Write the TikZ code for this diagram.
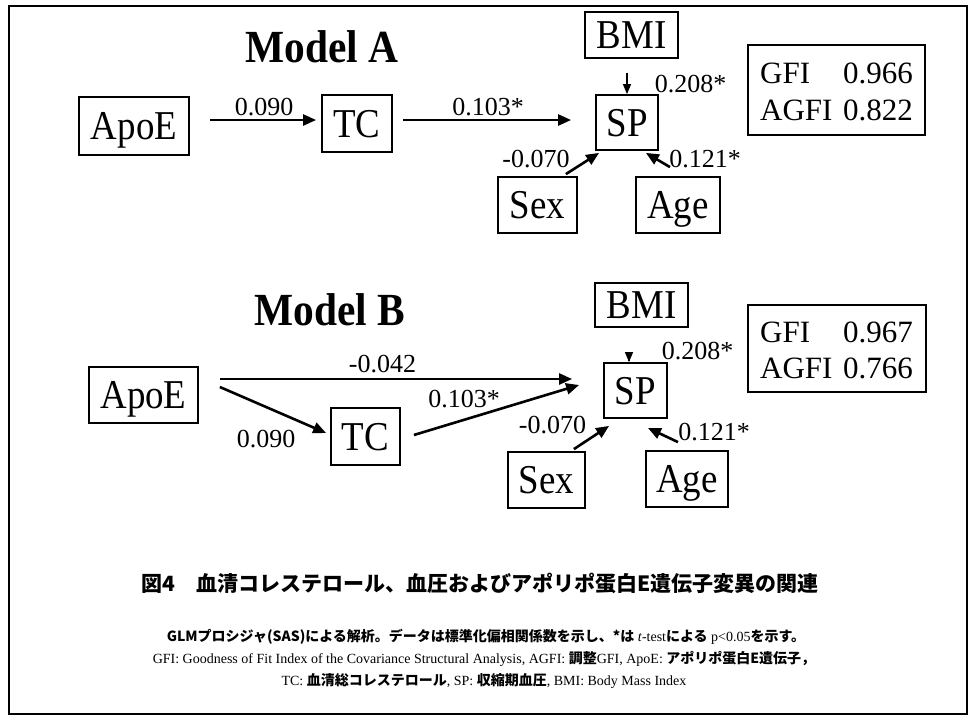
\documentclass[tikz,border=0pt]{standalone}
\usepackage{fontspec}
\setmainfont{Liberation Serif}
\newfontfamily\tmsn{Liberation Serif}[FakeStretch=0.9]
\newfontfamily\jp{Noto Sans CJK JP}
\usetikzlibrary{arrows.meta}
\tikzset{
  box/.style={draw, line width=1.8pt, inner sep=0pt, text height=27pt, text depth=0pt,
    font=\tmsn\fontsize{41}{48}\selectfont},
  title/.style={anchor=base, inner sep=0pt, font=\tmsn\bfseries\fontsize{46}{50}\selectfont},
  lbl/.style={anchor=base, inner sep=0pt, font=\fontsize{26}{30}\selectfont},
  gfit/.style={inner sep=0pt, font=\fontsize{31}{36}\selectfont},
  arr/.style={line width=2.6pt, -{Triangle[length=13pt,width=11pt]}},
  arrs/.style={line width=1.3pt, -{Triangle[length=10pt,width=8pt]}},
  note/.style={anchor=base, inner sep=0pt, font=\fontsize{14}{16}\selectfont},
}
\begin{document}
\begin{tikzpicture}[x=1pt,y=-1pt]
\useasboundingbox (0,0) rectangle (972,724);
\fill[white] (0,0) rectangle (972,724);
\draw[line width=2pt] (9,6) rectangle (967,714);

% ---------- Model A ----------
\node[title] (tA) at (322,62) {Model A};
\node[box, minimum width=110pt, minimum height=58pt] (apoeA) at (134,126) {ApoE};
\node[box, minimum width=70pt, minimum height=57pt] (tcA) at (357,123.5) {TC};
\node[box, minimum width=62pt, minimum height=55pt] (spA) at (627,122.5) {SP};
\node[box, minimum width=93pt, minimum height=46pt] (bmiA) at (631.5,35) {BMI};
\node[box, minimum width=79pt, minimum height=56pt] (sexA) at (537.5,205) {Sex};
\node[box, minimum width=84pt, minimum height=56pt] (ageA) at (678,205) {Age};
\node[box, minimum width=177pt, minimum height=90pt] (gfiA) at (836.5,90) {};
\node[gfit, anchor=base west] (gfiA1) at (760,83) {GFI};
\node[gfit, anchor=base east] (gfiA2) at (913,83) {0.966};
\node[gfit, anchor=base west] (gfiA3) at (760,120) {AGFI};
\node[gfit, anchor=base east] (gfiA4) at (913,120) {0.822};

\draw[arr, shorten >=5pt] ([xshift=20pt,yshift=6pt]apoeA.east) -- ([yshift=3.5pt]tcA.west);
\draw[arr, shorten >=24pt] ([xshift=10pt,yshift=3.5pt]tcA.east) -- ([yshift=2.5pt]spA.west);
\draw[arrs, shorten <=14pt] (bmiA.south -| spA.north) -- (spA.north);
\draw[arr] ([xshift=-12pt,yshift=2pt]sexA.north east) -- ([xshift=4pt,yshift=-2pt]spA.south west);
\draw[arr] ([xshift=-8pt,yshift=9pt]ageA.north) -- ([xshift=-13pt,yshift=-2pt]spA.south east);

\node[lbl] (lA1) at (264,115) {0.090};
\node[lbl] (lA2) at (488,115) {0.103*};
\node[lbl] (lA3) at (690.5,92) {0.208*};
\node[lbl] (lA4) at (536,167) {-0.070};
\node[lbl] (lA5) at (705,167) {0.121*};

% ---------- Model B ----------
\node[title] (tB) at (330,325) {Model B};
\node[box, minimum width=109pt, minimum height=56pt] (apoeB) at (143.5,395) {ApoE};
\node[box, minimum width=69pt, minimum height=57pt] (tcB) at (365.5,436.5) {TC};
\node[box, minimum width=63pt, minimum height=55pt] (spB) at (635.5,390.5) {SP};
\node[box, minimum width=93pt, minimum height=44pt] (bmiB) at (641.5,305) {BMI};
\node[box, minimum width=77pt, minimum height=56pt] (sexB) at (546.5,480) {Sex};
\node[box, minimum width=82pt, minimum height=56pt] (ageB) at (687,479) {Age};
\node[box, minimum width=178pt, minimum height=87pt] (gfiB) at (837,348.5) {};
\node[gfit, anchor=base west] (gfiB1) at (760,342) {GFI};
\node[gfit, anchor=base east] (gfiB2) at (913,342) {0.967};
\node[gfit, anchor=base west] (gfiB3) at (760,378) {AGFI};
\node[gfit, anchor=base east] (gfiB4) at (913,378) {0.766};

\draw[arr] ([xshift=21pt,yshift=16pt]apoeB.east) -- ([xshift=-31pt,yshift=11.5pt]spB.west);
\draw[arr] ([xshift=21pt,yshift=8pt]apoeB.east) -- ([xshift=-4pt,yshift=3.5pt]tcB.west);
\draw[arr] ([xshift=13pt,yshift=1.5pt]tcB.east) -- ([xshift=-24pt,yshift=5.5pt]spB.west);
\draw[arrs, shorten <=24pt] ([xshift=-6.5pt,yshift=25pt]spB.north) -- ([xshift=-6.5pt]spB.north);
\draw[arr] ([xshift=-12pt,yshift=2pt]sexB.north east) -- ([xshift=6pt,yshift=-7pt]spB.south west);
\draw[arr] ([xshift=-9pt,yshift=8pt]ageB.north) -- ([xshift=-20pt,yshift=-9pt]spB.south east);

\node[lbl] (lB1) at (382.5,372) {-0.042};
\node[lbl] (lB2) at (266,447) {0.090};
\node[lbl] (lB3) at (464,407) {0.103*};
\node[lbl] (lB4) at (697.5,359) {0.208*};
\node[lbl] (lB5) at (552.5,433) {-0.070};
\node[lbl] (lB6) at (714,440) {0.121*};

% ---------- caption and notes ----------
\node[anchor=base, inner sep=0pt, font=\jp\bfseries\fontsize{21}{24}\selectfont] (cap) at (480,591)
  {図4\quad 血清コレステロール、血圧およびアポリポ蛋白E遺伝子変異の関連};
\node[note] (n1) at (486,641)
  {{\jp\bfseries GLMプロシジャ(SAS)による解析。データは標準化偏相関係数を示し、*は} \textit{t}-test{\jp\bfseries による} p<0.05{\jp\bfseries を示す。}};
\node[note] (n2) at (484,663)
  {GFI: Goodness of Fit Index of the Covariance Structural Analysis, AGFI: {\jp\bfseries 調整}GFI, ApoE: {\jp\bfseries アポリポ蛋白E遺伝子，}};
\node[note] (n3) at (484,685)
  {TC: {\jp\bfseries 血清総コレステロール}, SP: {\jp\bfseries 収縮期血圧}, BMI: Body Mass Index};
\end{tikzpicture}
\end{document}
